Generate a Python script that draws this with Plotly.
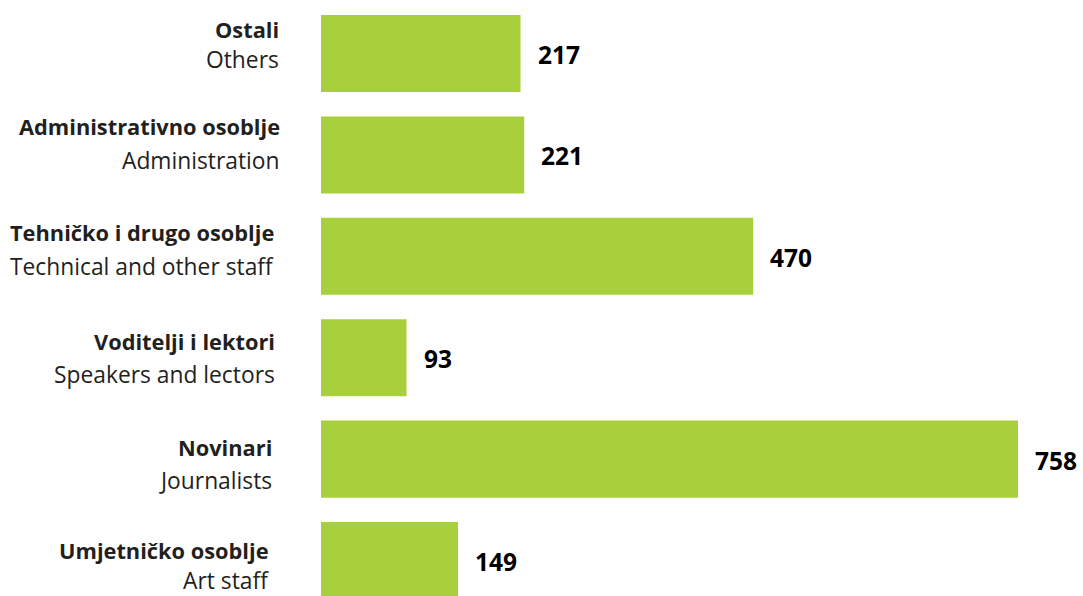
import plotly.graph_objects as go

categories_hr = ["Umjetničko osoblje", "Novinari", "Voditelji i lektori",
                 "Tehničko i drugo osoblje", "Administrativno osoblje", "Ostali"]
categories_en = ["Art staff", "Journalists", "Speakers and lectors",
                 "Technical and other staff", "Administration", "Others"]
values = [149, 758, 93, 470, 221, 217]

W, H = 1083, 596
BAR_COLOR = "#a8cf3c"
TEXT_COLOR = "#231f20"
FONT = "Open Sans"

# label placement styles (pixels): right edge, line-centre of bold and normal lines
label_right = [271, 274, 277, 276, 282, 281]
label_y_bold = [550, 447.5, 341, 232, 126.7, 29.5]
label_y_norm = [580, 480.5, 374, 266, 160.3, 59.5]

fig = go.Figure()
fig.add_trace(go.Bar(
    y=categories_hr, x=values, orientation="h",
    marker=dict(color=BAR_COLOR, line=dict(width=0)),
    hoverinfo="skip",
))

ann = []
for i, (c, v) in enumerate(zip(categories_hr, values)):
    ann.append(dict(x=v, y=c, xref="x", yref="y", text=f"<b>{v}</b>",
                    showarrow=False, xanchor="left", yanchor="middle",
                    xshift=15, yshift=-1,
                    font=dict(family=FONT, size=24.5, color="#000000")))
    ann.append(dict(x=label_right[i] / W, y=1 - label_y_bold[i] / H,
                    xref="paper", yref="paper", text=f"<b>{c}</b>",
                    showarrow=False, xanchor="right", yanchor="middle",
                    font=dict(family=FONT, size=21.8, color=TEXT_COLOR)))
    ann.append(dict(x=label_right[i] / W, y=1 - label_y_norm[i] / H,
                    xref="paper", yref="paper", text=categories_en[i],
                    showarrow=False, xanchor="right", yanchor="middle",
                    font=dict(family=FONT, size=22.8, color=TEXT_COLOR)))

fig.update_layout(
    width=W, height=H,
    margin=dict(l=0, r=0, t=0, b=0),
    paper_bgcolor="white", plot_bgcolor="white",
    showlegend=False, bargap=0.24,
    xaxis=dict(domain=[321 / W, 1], range=[0, 828.7], visible=False, fixedrange=True),
    yaxis=dict(range=[-0.35, 5.528], showticklabels=False, showgrid=False,
               zeroline=False, showline=False, ticks="", fixedrange=True),
    annotations=ann,
)

fig.write_html("out.html", config={"displayModeBar": False},
               post_script="document.body.style.margin='0';document.body.style.overflow='hidden';")
